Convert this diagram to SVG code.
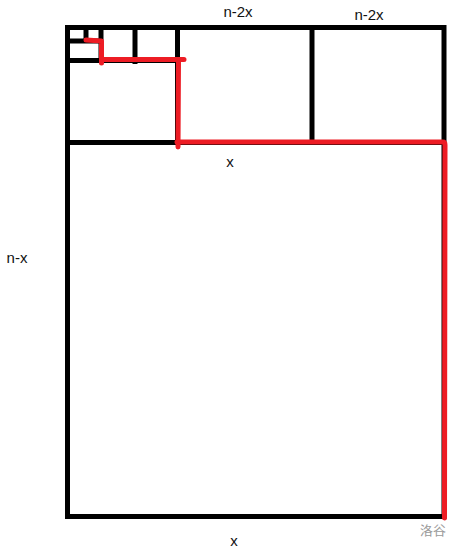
<svg xmlns="http://www.w3.org/2000/svg" width="461" height="550" viewBox="0 0 461 550">
<style>
.k{stroke:#000;stroke-width:5;fill:none}
.r{stroke:#ed1c24;stroke-width:5;fill:none;stroke-linecap:round;stroke-linejoin:round}
.t{font-family:"Liberation Sans",Arial,sans-serif;font-size:15px;fill:#111}
.w{font-family:"Noto Sans CJK SC","Liberation Sans",sans-serif;font-size:13px;fill:#9a9a9a}
</style>
<rect width="461" height="550" fill="#fff"/>
<g id="grid">
<rect class="k" x="67.5" y="27.5" width="376.5" height="489"/>
<line class="k" x1="67.5" y1="142.5" x2="446" y2="142.5"/>
<line class="k" x1="312" y1="27.5" x2="312" y2="145"/>
<line class="k" x1="177.5" y1="27.5" x2="177.5" y2="142.5"/>
<line class="k" x1="67.5" y1="60.5" x2="178" y2="60.5"/>
<line class="k" x1="135" y1="27.5" x2="135" y2="64"/>
<line class="k" x1="101" y1="27.5" x2="101" y2="62"/>
<line class="k" x1="67.5" y1="41" x2="101" y2="41"/>
<line class="k" x1="86" y1="27.5" x2="86" y2="41"/>
</g>
<g id="connectors">
<path class="r" d="M86,40 L101.5,41 L101.5,63 M101.5,59.5 L184,59.5 M178.5,59.5 L178,147 M177,142 L443,142 Q445,142 445,145 L444.5,518"/>
</g>
<g id="labels">
<text class="t" x="238" y="17" text-anchor="middle">n-2x</text>
<text class="t" x="369" y="20" text-anchor="middle">n-2x</text>
<text class="t" x="230" y="167" text-anchor="middle">x</text>
<text class="t" x="17" y="263" text-anchor="middle">n-x</text>
<text class="t" x="234" y="546" text-anchor="middle">x</text>
<text class="w" x="433" y="535" text-anchor="middle">洛谷</text>
</g>
</svg>
